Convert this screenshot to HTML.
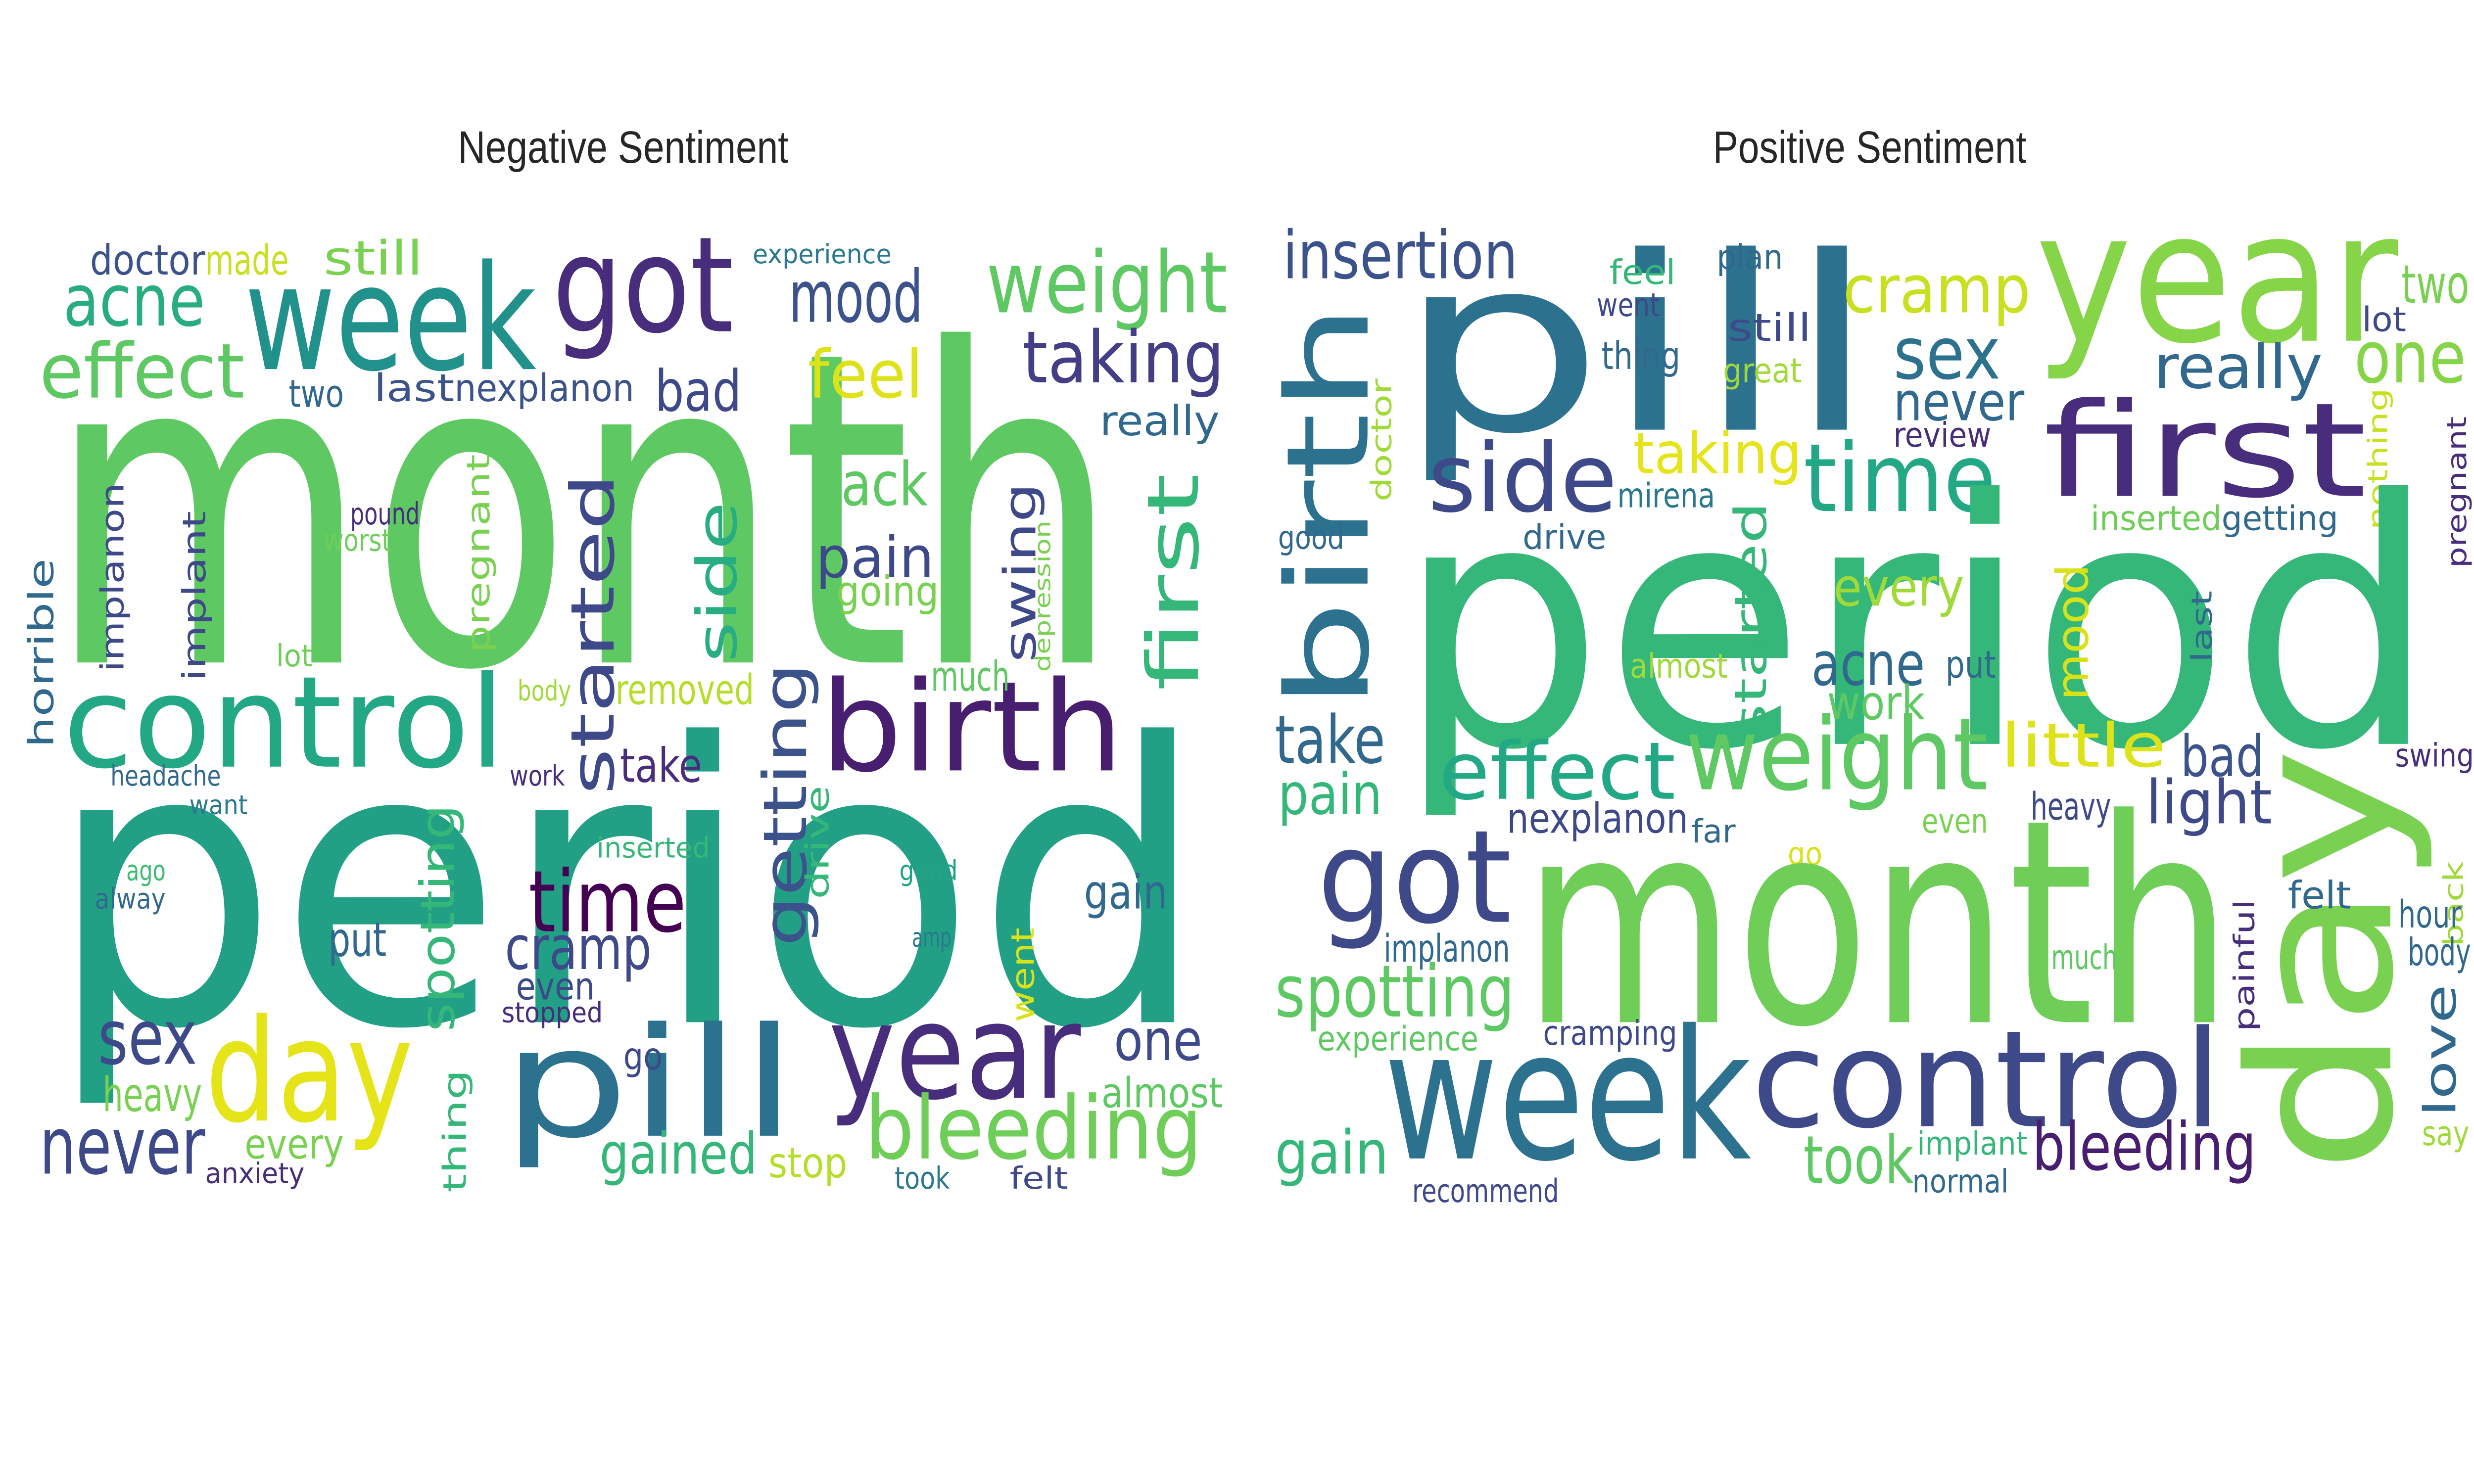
<!DOCTYPE html>
<html>
<head>
<meta charset="utf-8">
<style>
html,body{margin:0;padding:0;background:#fff;overflow:hidden;width:100vw;height:100vh;}
#wrap{width:100vw;height:100vh;overflow:hidden;}
svg{display:block;width:100vw;height:100vh;}
.w{font-family:"DejaVu Sans","Liberation Sans",sans-serif;}
.title{font-family:"Liberation Sans",sans-serif;font-size:24px;fill:#262626;}
</style>
</head>
<body>
<div id="wrap">
<svg id="svg" viewBox="0 0 1568 784" preserveAspectRatio="none">
  <text class="title" x="395" y="86" text-anchor="middle">Negative Sentiment</text>
  <text class="title" x="1185" y="86" text-anchor="middle">Positive Sentiment</text>
  <g id="neg"></g>
  <g id="pos"></g>
</svg>
</div>
<script>
// [word, x, baselineY (or bottomY if rotated), fontSize, length, color, rotated]
const negWords = [
 ["month",30,350,230,680,"#5ec962",0],
 ["period",30,540,205,735,"#21a085",0],
 ["week",155,195,77,185,"#21918c",0],
 ["got",350,175,70,115,"#472d7b",0],
 ["acne",40,172,38,90,"#27ad81",0],
 ["effect",25,210,40,130,"#5ec962",0],
 ["doctor",57,145,22,73,"#3b528b",0],
 ["made",130,145,22,53,"#c8e020",0],
 ["still",205,145,25,63,"#7ad151",0],
 ["experience",477,139,14,88,"#2a788e",0],
 ["mood",500,170,38,85,"#3b528b",0],
 ["weight",625,165,45,153,"#5ec962",0],
 ["taking",648,202,38,128,"#433e85",0],
 ["two",183,215,20,35,"#31688e",0],
 ["last",237,212,20,51,"#3b528b",0],
 ["nexplanon",288,212,20,114,"#3b528b",0],
 ["bad",415,217,30,55,"#3e4989",0],
 ["feel",512,210,35,73,"#dde318",0],
 ["really",697,230,22,76,"#31688e",0],
 ["back",513,267,32,75,"#5ec962",0],
 ["pain",517,305,30,75,"#3e4989",0],
 ["going",530,320,22,65,"#7ad151",0],
 ["first",725,365,45,115,"#35b779",1],
 ["swing",635,350,28,95,"#3e4989",1],
 ["depression",655,355,14,80,"#7ad151",1],
 ["side",440,350,35,85,"#27ad81",1],
 ["started",360,420,38,170,"#3e4989",1],
 ["pregnant",295,345,20,105,"#7ad151",1],
 ["implanon",63,355,20,100,"#3e4989",1],
 ["implant",115,360,20,90,"#3e4989",1],
 ["horrible",17,395,22,100,"#31688e",1],
 ["pound",222,277,16,44,"#472d7b",0],
 ["worst",205,291,16,43,"#6ece58",0],
 ["lot",175,352,16,23,"#6ece58",0],
 ["control",40,405,67,280,"#22a884",0],
 ["birth",520,407,66,192,"#481f70",0],
 ["body",328,370,15,34,"#a0da39",0],
 ["removed",390,372,22,88,"#b5de2b",0],
 ["much",590,365,22,50,"#5ec962",0],
 ["getting",482,500,38,150,"#3b528b",1],
 ["drive",510,475,20,60,"#35b779",1],
 ["headache",70,415,15,70,"#31688e",0],
 ["want",120,430,14,37,"#2a788e",0],
 ["work",323,415,15,35,"#472d7b",0],
 ["take",393,413,25,52,"#472d7b",0],
 ["inserted",378,453,15,72,"#35b779",0],
 ["spotting",265,545,30,120,"#35b779",1],
 ["time",335,492,45,100,"#440154",0],
 ["cramp",320,512,32,93,"#3e4989",0],
 ["even",327,528,20,50,"#3e4989",0],
 ["stopped",318,540,15,64,"#472d7b",0],
 ["ago",80,465,15,25,"#3dbc74",0],
 ["alway",60,480,15,45,"#31688e",0],
 ["put",208,505,25,37,"#31688e",0],
 ["good",570,465,15,37,"#20a386",0],
 ["amp",578,500,14,25,"#2a788e",0],
 ["gain",687,480,25,53,"#31688e",0],
 ["went",640,540,20,50,"#d8e219",1],
 ["sex",62,562,40,63,"#3e4989",0],
 ["heavy",65,587,25,63,"#7ad151",0],
 ["day",130,592,75,132,"#e5e419",0],
 ["pill",318,600,80,187,"#2c728e",0],
 ["year",525,580,70,160,"#472d7b",0],
 ["one",706,560,30,56,"#3e4989",0],
 ["almost",698,585,22,77,"#5ec962",0],
 ["go",395,565,20,25,"#3e4989",0],
 ["thing",280,630,20,65,"#35b779",1],
 ["never",25,620,42,105,"#3e4989",0],
 ["every",155,612,22,63,"#7ad151",0],
 ["anxiety",130,625,15,63,"#472d7b",0],
 ["bleeding",548,612,46,214,"#6ece58",0],
 ["gained",380,620,30,100,"#35b779",0],
 ["stop",487,622,22,50,"#b5de2b",0],
 ["took",567,628,16,35,"#2a788e",0],
 ["felt",640,628,16,37,"#3e4989",0]
];
const posWords = [
 ["insertion",813,147,35,149,"#3b528b",0],
 ["pill",885,227,128,305,"#2c728e",0],
 ["feel",1020,150,18,42,"#35b779",0],
 ["plan",1088,142,18,42,"#31688e",0],
 ["went",1012,167,17,40,"#3e4989",0],
 ["still",1095,180,20,53,"#3e4989",0],
 ["thing",1015,195,20,50,"#31688e",0],
 ["great",1092,202,18,50,"#a0da39",0],
 ["cramp",1168,165,35,119,"#c8e020",0],
 ["year",1290,180,96,230,"#86d549",0],
 ["two",1522,160,28,43,"#7ad151",0],
 ["lot",1497,175,18,28,"#3e4989",0],
 ["one",1492,202,38,71,"#86d549",0],
 ["sex",1200,200,38,68,"#2c728e",0],
 ["really",1365,205,32,107,"#31688e",0],
 ["never",1200,222,28,83,"#31688e",0],
 ["review",1200,236,18,62,"#472d7b",0],
 ["first",1295,262,69,205,"#472d7b",0],
 ["nothing",1500,280,17,75,"#c8e020",1],
 ["pregnant",1550,300,17,80,"#472d7b",1],
 ["birth",812,375,72,215,"#2c728e",1],
 ["doctor",868,265,18,65,"#a0da39",1],
 ["side",905,270,50,120,"#3e4989",0],
 ["taking",1035,250,30,107,"#e5e419",0],
 ["mirena",1025,268,18,62,"#2a788e",0],
 ["time",1143,270,50,122,"#22a884",0],
 ["inserted",1325,280,18,83,"#6ece58",0],
 ["getting",1408,280,18,74,"#31688e",0],
 ["good",810,290,17,42,"#31688e",0],
 ["drive",965,290,18,53,"#31688e",0],
 ["period",885,393,180,660,"#35b779",0],
 ["every",1162,320,28,83,"#a0da39",0],
 ["started",1098,390,28,125,"#35b779",1],
 ["mood",1302,370,28,72,"#d8e219",1],
 ["last",1388,350,18,38,"#31688e",1],
 ["almost",1033,358,18,62,"#a0da39",0],
 ["acne",1148,362,32,72,"#31688e",0],
 ["put",1233,358,20,32,"#31688e",0],
 ["work",1158,380,25,62,"#5ec962",0],
 ["take",808,403,35,70,"#31688e",0],
 ["pain",810,430,30,66,"#35b779",0],
 ["effect",912,422,42,150,"#22a884",0],
 ["weight",1068,417,53,192,"#5ec962",0],
 ["little",1268,405,32,105,"#dde318",0],
 ["bad",1382,410,30,53,"#3b528b",0],
 ["swing",1518,405,17,50,"#472d7b",0],
 ["heavy",1287,433,20,51,"#3e4989",0],
 ["light",1360,435,32,80,"#3e4989",0],
 ["day",1420,620,125,225,"#7ad151",1],
 ["back",1548,500,17,45,"#a0da39",1],
 ["nexplanon",955,440,22,115,"#3e4989",0],
 ["far",1072,445,17,28,"#31688e",0],
 ["even",1218,440,18,42,"#7ad151",0],
 ["go",1133,457,17,22,"#d8e219",0],
 ["got",835,487,68,123,"#3e4989",0],
 ["month",965,540,150,450,"#6ece58",0],
 ["felt",1450,480,20,40,"#31688e",0],
 ["hour",1520,490,20,40,"#31688e",0],
 ["body",1526,510,20,40,"#31688e",0],
 ["implanon",877,508,20,80,"#31688e",0],
 ["painful",1415,545,18,70,"#472d7b",1],
 ["much",1300,512,18,42,"#5ec962",0],
 ["spotting",808,537,38,152,"#5ec962",0],
 ["love",1535,590,28,70,"#31688e",1],
 ["experience",835,555,18,102,"#5ec962",0],
 ["cramping",978,552,18,85,"#3e4989",0],
 ["week",877,612,95,233,"#2c728e",0],
 ["control",1110,595,71,298,"#3e4989",0],
 ["gain",808,620,32,72,"#35b779",0],
 ["say",1535,605,18,30,"#a0da39",0],
 ["took",1143,625,35,70,"#5ec962",0],
 ["implant",1215,610,17,70,"#35b779",0],
 ["normal",1212,630,17,61,"#31688e",0],
 ["bleeding",1288,618,35,142,"#481f70",0],
 ["recommend",895,635,17,93,"#3e4989",0]
];
const NS = "http://www.w3.org/2000/svg";
function drawCloud(gid, words, prefix) {
  const g = document.getElementById(gid);
  words.forEach(function (w) {
    const t = document.createElementNS(NS, "text");
    t.setAttribute("class", "w");
    t.setAttribute("font-size", w[3]);
    t.setAttribute("fill", w[5]);
    t.setAttribute("textLength", w[4]);
    t.setAttribute("lengthAdjust", "spacingAndGlyphs");
    if (w[6]) {
      const bx = w[1] + 0.76 * w[3];
      t.setAttribute("x", 0);
      t.setAttribute("y", 0);
      t.setAttribute("transform", "translate(" + bx + "," + w[2] + ") rotate(-90)");
    } else {
      t.setAttribute("x", w[1]);
      t.setAttribute("y", w[2]);
    }
    t.textContent = w[0];
    
    
    g.appendChild(t);
  });
}
drawCloud("neg", negWords, "negative");
drawCloud("pos", posWords, "positive");
</script>
</body>
</html>
